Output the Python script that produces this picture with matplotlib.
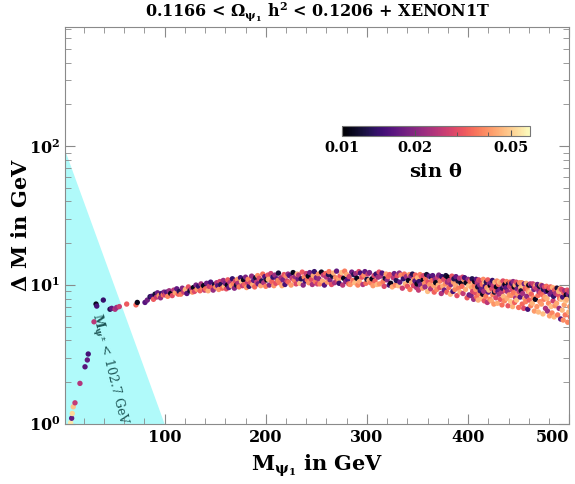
import matplotlib.pyplot as plt
import numpy as np
from matplotlib.colors import LogNorm
from matplotlib.ticker import MultipleLocator, NullFormatter, LogLocator

plt.rcParams["font.family"] = "DejaVu Serif"
plt.rcParams["font.weight"] = "bold"
plt.rcParams["axes.labelweight"] = "bold"
plt.rcParams["axes.titleweight"] = "bold"
plt.rcParams["mathtext.fontset"] = "custom"
plt.rcParams["mathtext.rm"] = "DejaVu Serif"
plt.rcParams["mathtext.it"] = "DejaVu Serif:italic"
plt.rcParams["mathtext.bf"] = "DejaVu Serif:bold"
plt.rcParams["mathtext.default"] = "bf"

# low mass chain (inside / near the LEP bound)
chain_m = [7.1, 8.1, 8.7, 9.7, 11.4, 16.3, 21.3, 23.6, 24.5, 30.2, 32.2, 32.9,
           39.4, 46.0, 47.7, 51.0, 52.6, 55.2, 62.5, 71.7, 73.0, 80.6, 82.9, 85.6]
chain_dm = [1.02, 1.10, 1.19, 1.33, 1.42, 1.96, 2.58, 2.89, 3.19, 5.44, 7.3, 7.06,
            7.8, 6.7, 6.8, 6.7, 6.9, 7.0, 7.3, 7.2, 7.5, 7.5, 7.8, 8.25]
chain_sin = [0.055, 0.017, 0.052, 0.048, 0.026, 0.024, 0.016, 0.017, 0.015, 0.025, 0.011, 0.015,
             0.014, 0.013, 0.017, 0.024, 0.022, 0.027, 0.032, 0.034, 0.011, 0.016, 0.018, 0.013]

band_m = [
    87, 89, 90.5, 92, 93, 94.5, 96, 97, 98.5, 99.5,
    100.5, 102, 103, 104.5, 106, 107.5, 109, 110.5, 112, 113.5,
    114.5, 116, 117.5, 119, 120.5, 122, 123.5, 125, 126.5, 127.5,
    128.5, 129.5, 131, 132, 133.5, 135, 136, 137.5, 138.5, 139.5,
    140.5, 141.5, 143, 144, 145.5, 147, 148, 149.5, 150.5, 151.5,
    152.5, 153.5, 154.5, 155.5, 157, 158, 159, 160, 161, 162,
    162.5, 163.5, 164.5, 166, 167, 168, 169, 170, 171, 172,
    172.5, 173.5, 175, 176, 177, 178, 179, 180, 181, 182,
    182.5, 183.5, 185, 186, 187, 188, 189, 190, 191, 192,
    192.5, 193.5, 195, 196, 197, 198, 199, 200, 201, 202,
    202.5, 203.5, 205, 206, 207, 208, 209, 210, 211, 212,
    212.5, 213.5, 215, 216, 217, 218, 219, 220, 221, 222,
    222.5, 223.5, 225, 226, 227, 228, 229, 230, 231, 232,
    232.5, 233.5, 235, 236, 237, 238, 239, 240, 241, 242,
    242.5, 243.5, 245, 246, 247, 248, 249, 250, 251, 252,
    252.5, 253.5, 255, 256, 257, 258, 259, 260, 261, 262,
    262.5, 263.5, 265, 266, 267, 268, 269, 270, 271, 272,
    272.5, 273.5, 275, 276, 277, 278, 279, 280, 281, 282,
    282.5, 283.5, 285, 286, 287, 288, 289, 290, 291, 292,
    292.5, 293.5, 295, 296, 297, 298, 299, 300, 301, 302,
    302.5, 303.5, 305, 306, 307, 308, 309, 310, 311, 312,
    312.5, 313.5, 315, 316, 317, 318, 319, 320, 321, 322,
    322.5, 323.5, 325, 326, 327, 328, 329, 330, 331, 332,
    332.5, 333.5, 335, 336, 337, 338, 339, 340, 341, 342,
    342.5, 343.5, 344, 345, 346, 346.5, 347.5, 348, 349, 349.5,
    350, 351, 351.5, 352.5, 353, 354, 355, 355.5, 356, 357,
    357.5, 358, 359, 360, 360.5, 361.5, 362, 363, 364, 364.5,
    365, 366, 366.5, 367.5, 368, 369, 370, 370.5, 371, 372,
    372.5, 373.5, 374, 375, 376, 376.5, 377.5, 378, 379, 379.5,
    380, 381, 381.5, 382.5, 383, 384, 385, 385.5, 386, 387,
    387.5, 388, 389, 390, 390.5, 391.5, 392, 393, 394, 394.5,
    395, 396, 396.5, 397.5, 398, 399, 400, 400.5, 401, 402,
    402.5, 403, 403.5, 404, 404.5, 405, 405.5, 406, 406.5, 407,
    407.5, 408, 408.5, 409, 409.5, 410, 410.5, 411, 411.5, 412,
    412.5, 413, 413.5, 414, 414.5, 415, 415.5, 416, 416.5, 417,
    417.5, 418, 418.5, 419, 419.5, 420, 420.5, 421, 421.5, 422,
    422.5, 423, 423.5, 424, 424.5, 425, 425.5, 426, 426.5, 427,
    427.5, 428, 428.5, 429, 429.5, 430, 430.5, 431, 431.5, 432,
    432.5, 433, 433.5, 434, 434.5, 435, 435.5, 436, 436.5, 437,
    437.5, 438, 438.5, 439, 439.5, 440, 440.5, 441, 441.5, 442,
    442.5, 443, 443.5, 444, 444.5, 445, 445.5, 446, 446.5, 447,
    447.5, 448, 448.5, 449, 449.5, 450, 450.5, 451, 451.5, 452,
    452.5, 453, 453.5, 454, 454.5, 455, 455.5, 456, 456.5, 457,
    457.5, 458, 458.5, 459, 459.5, 460, 460.5, 461, 461.5, 462,
    462.5, 463, 463.5, 464, 464.5, 465, 465.5, 466, 466.5, 467,
    467.5, 468, 468.5, 469, 469.5, 470, 470.5, 471, 471.5, 472,
    472.5, 473, 473.5, 474, 474.5, 475, 475.5, 476, 476.5, 477,
    477.5, 478, 478.5, 479, 479.5, 480, 480.5, 481, 481.5, 482,
    482.5, 483, 483.5, 484, 484.5, 485, 485.5, 486, 486.5, 487,
    487.5, 488, 488.5, 489, 489.5, 490, 490.5, 491, 491.5, 492,
    492.5, 493, 493.5, 494, 494.5, 495, 495.5, 496, 496.5, 497,
    497.5, 498, 498.5, 499, 499.5, 500, 500.5, 501, 501.5, 502,
]
band_dm = [
    8.3, 7.9, 8.6, 8.2, 8.8, 8.4, 8.1, 8.7, 8.5, 8.9,
    8.5, 8.9, 8.3, 9.1, 8.7, 8.4, 9.2, 8.8, 9.4, 8.6,
    9.0, 8.6, 9.5, 8.9, 9.3, 8.7, 9.7, 9.1, 9.4, 8.9,
    9.6, 9.0, 10.0, 9.3, 9.8, 9.1, 10.2, 9.5, 9.9, 9.2,
    9.4, 10.3, 9.1, 9.8, 10.5, 9.6, 9.2, 10.1, 9.7, 10.4,
    9.9, 9.3, 10.6, 10.1, 9.5, 10.8, 9.8, 10.3, 9.4, 10.0,
    10.9, 9.6, 10.4, 9.9, 11.1, 10.2, 9.5, 10.7, 10.0, 11.0,
    10.3, 9.7, 11.3, 10.6, 9.9, 10.9, 10.1, 11.4, 9.6, 10.5,
    11.0, 9.8, 10.4, 11.6, 10.1, 10.8, 9.7, 11.3, 10.5, 11.7,
    10.2, 11.2, 9.9, 10.7, 12.0, 10.4, 11.5, 9.8, 10.9, 11.8,
    11.0, 10.0, 12.1, 10.6, 11.4, 9.9, 11.8, 10.3, 11.1, 10.8,
    12.2, 10.4, 11.3, 9.9, 10.9, 11.9, 10.1, 11.6, 10.7, 12.0,
    10.5, 11.7, 10.0, 11.2, 12.3, 10.8, 11.5, 10.2, 12.0, 11.0,
    11.8, 10.3, 11.1, 12.4, 10.0, 11.4, 10.7, 12.1, 10.9, 11.6,
    10.4, 12.3, 11.0, 10.1, 11.7, 12.5, 10.6, 11.3, 10.2, 12.0,
    11.1, 10.2, 12.4, 10.7, 11.8, 10.0, 12.1, 11.4, 10.5, 11.9,
    12.5, 10.9, 10.1, 11.6, 12.2, 10.4, 11.3, 12.6, 10.7, 11.0,
    10.3, 11.7, 12.3, 10.0, 11.2, 12.6, 10.6, 11.9, 11.0, 10.2,
    11.5, 10.1, 12.4, 10.8, 11.9, 10.4, 12.1, 11.2, 10.0, 12.5,
    10.6, 12.2, 11.4, 10.1, 11.8, 12.5, 10.3, 11.0, 12.0, 10.8,
    12.3, 10.4, 11.1, 9.9, 11.7, 10.7, 12.0, 10.1, 11.4, 12.4,
    10.2, 11.6, 12.2, 10.6, 9.8, 11.2, 12.0, 10.9, 11.5, 10.0,
    11.9, 10.3, 9.7, 11.3, 12.1, 10.0, 10.8, 11.7, 9.9, 12.2,
    10.5, 11.8, 9.5, 11.1, 12.0, 10.2, 11.5, 9.8, 10.8, 11.9,
    9.3, 11.6, 10.4, 12.0, 9.9, 11.0, 10.7, 11.8, 9.6, 10.2,
    11.3, 9.2, 10.6, 11.9, 10.0, 11.5, 9.5, 10.9, 11.7, 10.3,
    9.7, 11.1, 11.9, 9.0, 10.5, 11.6, 10.1, 9.4, 11.3, 10.8,
    11.7, 9.9, 8.9, 11.0, 10.4, 9.3, 11.4, 10.0, 11.8, 9.6,
    10.7, 8.7, 11.5, 9.8, 11.0, 9.2, 10.2, 11.7, 8.9, 10.5,
    11.4, 9.6, 10.8, 8.6, 10.1, 11.6, 9.0, 10.5, 11.1, 9.3,
    10.0, 11.5, 8.4, 10.7, 9.5, 11.2, 8.9, 10.3, 9.8, 11.4,
    8.7, 10.9, 11.3, 9.3, 10.4, 8.1, 11.0, 9.9, 8.5, 10.6,
    10.8, 8.4, 9.6, 11.1, 9.0, 10.2, 7.9, 9.9, 10.6, 8.8,
    9.3, 11.0, 8.2, 10.4, 9.7, 7.8, 10.9, 8.7, 10.0, 9.1,
    10.7, 8.0, 9.4, 10.1, 8.6, 11.0, 9.0, 7.7, 10.4, 9.8,
    8.3, 10.5, 9.6, 7.5, 10.9, 8.9, 9.2, 10.2, 7.9, 9.9,
    10.3, 7.7, 9.4, 10.8, 8.5, 9.9, 7.3, 8.9, 10.5, 9.1,
    8.1, 9.7, 10.7, 7.4, 9.0, 10.1, 8.6, 10.5, 9.3, 7.9,
    10.4, 8.8, 7.2, 9.5, 10.7, 8.3, 9.9, 7.7, 10.1, 9.1,
    9.6, 10.6, 8.0, 9.0, 7.1, 10.2, 8.5, 9.8, 10.5, 7.6,
    8.4, 10.3, 9.2, 7.0, 10.6, 8.8, 9.7, 7.5, 10.0, 8.1,
    10.5, 7.8, 9.4, 8.6, 10.1, 6.9, 9.0, 10.4, 8.2, 9.6,
    9.1, 10.4, 7.3, 8.7, 9.8, 6.8, 10.2, 8.0, 9.4, 7.6,
    10.3, 8.3, 9.6, 6.7, 9.0, 10.0, 7.8, 8.9, 10.2, 7.1,
    8.6, 9.9, 7.4, 10.2, 8.1, 9.3, 6.5, 9.7, 7.9, 10.0,
    9.5, 7.0, 10.1, 8.4, 6.4, 9.0, 9.8, 7.6, 8.8, 10.0,
    7.3, 9.9, 8.5, 6.2, 9.3, 7.9, 9.7, 8.2, 6.8, 9.0,
    9.8, 8.0, 6.5, 9.1, 7.4, 9.5, 6.0, 8.6, 9.7, 7.0,
    8.9, 6.3, 9.6, 7.7, 8.3, 5.9, 9.2, 7.1, 8.7, 9.5,
    7.4, 9.5, 6.1, 8.5, 9.0, 6.8, 8.0, 9.4, 5.7, 7.9,
    9.3, 6.6, 8.2, 5.6, 8.8, 7.2, 9.1, 6.1, 7.7, 8.5,
    7.9, 9.2, 5.4, 8.6, 6.4, 9.0, 7.0, 5.9, 8.3, 7.5,
]
band_sin = [
    0.015, 0.032, 0.012, 0.026, 0.018, 0.040, 0.021, 0.014, 0.035, 0.019,
    0.028, 0.016, 0.038, 0.022, 0.011, 0.030, 0.025, 0.042, 0.017, 0.034,
    0.013, 0.036, 0.020, 0.027, 0.045, 0.016, 0.031, 0.012, 0.024, 0.039,
    0.011, 0.029, 0.019, 0.041, 0.014, 0.033, 0.023, 0.037, 0.011, 0.026,
    0.035, 0.018, 0.044, 0.027, 0.015, 0.031, 0.021, 0.012, 0.039, 0.024,
    0.016, 0.040, 0.028, 0.013, 0.034, 0.022, 0.046, 0.019, 0.030, 0.011,
    0.032, 0.017, 0.025, 0.043, 0.014, 0.037, 0.020, 0.029, 0.012, 0.041,
    0.023, 0.036, 0.015, 0.048, 0.027, 0.011, 0.033, 0.019, 0.040, 0.026,
    0.038, 0.014, 0.030, 0.021, 0.044, 0.017, 0.034, 0.012, 0.026, 0.039,
    0.018, 0.029, 0.042, 0.013, 0.035, 0.024, 0.016, 0.037, 0.011, 0.031,
    0.045, 0.020, 0.027, 0.033, 0.014, 0.040, 0.022, 0.030, 0.017, 0.038,
    0.012, 0.036, 0.024, 0.043, 0.019, 0.031, 0.015, 0.039, 0.028, 0.021,
    0.034, 0.016, 0.041, 0.026, 0.011, 0.037, 0.022, 0.029, 0.044, 0.018,
    0.025, 0.047, 0.013, 0.032, 0.020, 0.038, 0.015, 0.027, 0.035, 0.011,
    0.040, 0.018, 0.030, 0.023, 0.043, 0.014, 0.036, 0.019, 0.028, 0.039,
    0.021, 0.038, 0.011, 0.044, 0.026, 0.016, 0.033, 0.024, 0.041, 0.013,
    0.036, 0.019, 0.030, 0.012, 0.045, 0.023, 0.039, 0.017, 0.028, 0.042,
    0.014, 0.032, 0.047, 0.025, 0.011, 0.037, 0.020, 0.043, 0.016, 0.034,
    0.027, 0.040, 0.018, 0.035, 0.013, 0.046, 0.022, 0.011, 0.038, 0.029,
    0.043, 0.015, 0.031, 0.024, 0.039, 0.017, 0.035, 0.012, 0.026, 0.044,
    0.019, 0.037, 0.011, 0.041, 0.028, 0.033, 0.014, 0.046, 0.022, 0.030,
    0.040, 0.023, 0.016, 0.036, 0.029, 0.012, 0.042, 0.020, 0.034, 0.015,
    0.032, 0.011, 0.044, 0.025, 0.018, 0.038, 0.013, 0.030, 0.047, 0.021,
    0.017, 0.039, 0.027, 0.014, 0.035, 0.045, 0.022, 0.031, 0.011, 0.041,
    0.036, 0.020, 0.043, 0.013, 0.029, 0.038, 0.016, 0.033, 0.024, 0.011,
    0.045, 0.026, 0.014, 0.037, 0.019, 0.032, 0.041, 0.011, 0.028, 0.039,
    0.022, 0.035, 0.012, 0.047, 0.030, 0.017, 0.040, 0.025, 0.013, 0.034,
    0.016, 0.042, 0.033, 0.021, 0.011, 0.038, 0.027, 0.045, 0.019, 0.031,
    0.037, 0.024, 0.014, 0.044, 0.029, 0.018, 0.039, 0.012, 0.033, 0.022,
    0.011, 0.035, 0.026, 0.046, 0.020, 0.031, 0.015, 0.041, 0.013, 0.038,
    0.043, 0.017, 0.030, 0.012, 0.037, 0.024, 0.045, 0.011, 0.034, 0.028,
    0.026, 0.039, 0.015, 0.044, 0.011, 0.032, 0.021, 0.048, 0.018, 0.036,
    0.033, 0.019, 0.042, 0.013, 0.028, 0.046, 0.022, 0.037, 0.011, 0.030,
    0.040, 0.016, 0.035, 0.024, 0.012, 0.044, 0.029, 0.038, 0.020, 0.014,
    0.027, 0.045, 0.018, 0.034, 0.011, 0.039, 0.023, 0.031, 0.048, 0.015,
    0.036, 0.013, 0.041, 0.025, 0.032, 0.017, 0.046, 0.021, 0.038, 0.011,
    0.019, 0.043, 0.030, 0.014, 0.037, 0.026, 0.040, 0.012, 0.045, 0.033,
    0.028, 0.011, 0.039, 0.044, 0.016, 0.034, 0.023, 0.047, 0.018, 0.031,
    0.042, 0.025, 0.035, 0.013, 0.029, 0.046, 0.020, 0.038, 0.011, 0.032,
    0.017, 0.037, 0.044, 0.022, 0.031, 0.012, 0.040, 0.027, 0.034, 0.048,
    0.039, 0.015, 0.028, 0.045, 0.021, 0.036, 0.011, 0.033, 0.043, 0.024,
    0.030, 0.047, 0.019, 0.041, 0.013, 0.035, 0.026, 0.038, 0.016, 0.044,
    0.012, 0.039, 0.034, 0.023, 0.046, 0.029, 0.018, 0.042, 0.031, 0.037,
    0.044, 0.021, 0.036, 0.015, 0.040, 0.011, 0.032, 0.047, 0.025, 0.038,
    0.033, 0.014, 0.045, 0.027, 0.038, 0.019, 0.041, 0.030, 0.011, 0.043,
    0.026, 0.040, 0.017, 0.035, 0.046, 0.022, 0.012, 0.039, 0.031, 0.044,
    0.041, 0.020, 0.034, 0.047, 0.013, 0.037, 0.028, 0.043, 0.024, 0.016,
    0.035, 0.045, 0.022, 0.011, 0.039, 0.030, 0.042, 0.018, 0.033, 0.047,
    0.019, 0.038, 0.044, 0.027, 0.014, 0.046, 0.031, 0.040, 0.023, 0.036,
    0.043, 0.012, 0.037, 0.029, 0.045, 0.021, 0.034, 0.040, 0.016, 0.048,
    0.028, 0.046, 0.015, 0.039, 0.033, 0.042, 0.022, 0.036, 0.048, 0.011,
    0.044, 0.031, 0.038, 0.018, 0.045, 0.026, 0.040, 0.035, 0.013, 0.047,
]
assert len(band_m) == len(band_dm) == len(band_sin)

sin_ticks = [0.01, 0.02, 0.05]
x_ticks = [100, 200, 300, 400, 500]

m_all = chain_m + band_m
dm_all = chain_dm + band_dm
sin_all = chain_sin + band_sin

fig = plt.figure(figsize=(5.75, 4.84), dpi=100)
ax = fig.add_axes([0.113, 0.124, 0.877, 0.820])

x0 = 1.5
ax.fill([x0, 100, x0], [94, 1, 1], color="#b0fafa", lw=0, zorder=1)

norm = LogNorm(vmin=0.01, vmax=0.06)
sc = ax.scatter(m_all, dm_all, c=sin_all, cmap="magma", norm=norm, s=15, lw=0, zorder=2)

# LEP chargino bound label, rotated along the cyan edge
ax.text(45, 2.45, r"$\mathrm{M_{\psi^{\pm}}}$ < 102.7 GeV", rotation=-76, color="#1d5656",
        fontsize=9, fontweight="normal", ha="center", va="center", zorder=3)

ax.set_yscale("log")
ax.set_xlim(x0, 500)
ax.set_ylim(1, 720)
ax.set_xticks(x_ticks)
ax.xaxis.set_minor_locator(MultipleLocator(20))
ax.yaxis.set_major_locator(LogLocator(base=10, numticks=10))
ax.yaxis.set_minor_locator(LogLocator(base=10, subs=np.arange(2, 10), numticks=10))
ax.yaxis.set_minor_formatter(NullFormatter())

for sp in ax.spines.values():
    sp.set_color("#8a8a8a")
ax.tick_params(which="both", direction="in", top=True, right=True, color="#8a8a8a",
               labelsize=11.5, labelcolor="black")
ax.tick_params(which="major", length=7)
ax.tick_params(which="minor", length=4)
for lab in ax.get_xticklabels() + ax.get_yticklabels():
    lab.set_fontweight("bold")
ax.get_xticklabels()[-1].set_horizontalalignment("right")

ax.set_xlabel(r"M$_{\psi_1}$ in GeV", fontsize=15, fontweight="bold", labelpad=5)
ax.set_ylabel(r"$\Delta$ M in GeV", fontsize=15, fontweight="bold", labelpad=-2)
ax.set_title(r"0.1166 < $\Omega_{\psi_1}$ h$^2$ < 0.1206 + XENON1T", fontsize=11.5,
             fontweight="bold", pad=8)

cax = fig.add_axes([0.595, 0.719, 0.327, 0.021])
cb = fig.colorbar(sc, cax=cax, orientation="horizontal")
cb.set_ticks(sin_ticks)
cb.set_ticklabels(["0.01", "0.02", "0.05"])
cb.ax.xaxis.set_minor_formatter(NullFormatter())
cb.ax.tick_params(which="both", direction="in", color="#555555", labelsize=10.5)
cb.ax.tick_params(which="major", length=4)
cb.ax.tick_params(which="minor", length=3)
for lab in cb.ax.get_xticklabels():
    lab.set_fontweight("bold")
cb.outline.set_edgecolor("#777777")
cb.set_label(r"sin $\theta$", fontsize=14, fontweight="bold", labelpad=6)

fig.savefig("out.png", dpi=100)
